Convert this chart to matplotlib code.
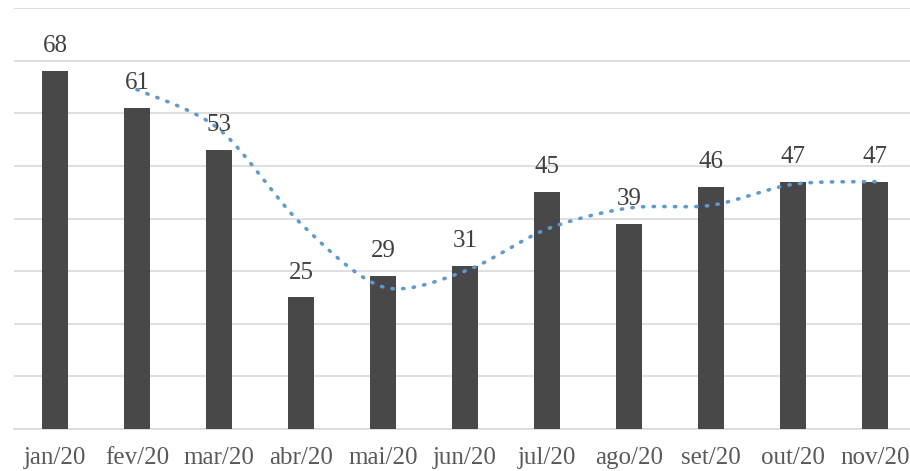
import matplotlib
matplotlib.use("Agg")
import matplotlib.pyplot as plt
import numpy as np

months = ['jan/20', 'fev/20', 'mar/20', 'abr/20', 'mai/20', 'jun/20',
          'jul/20', 'ago/20', 'set/20', 'out/20', 'nov/20']
values = [68, 61, 53, 25, 29, 31, 45, 39, 46, 47, 47]
# trend line (2-period moving average), starts at fev/20
trend = [64.5, 57, 39, 27, 30, 38, 42, 42.5, 46.5, 47]

plt.rcParams['font.family'] = ['Liberation Serif', 'DejaVu Serif']

fig = plt.figure(figsize=(9.10, 4.71), dpi=100)
ax = fig.add_axes([14 / 910, (471 - 429) / 471, 902 / 910, (429 - 8) / 471])

x = np.arange(len(months))
ax.bar(x, values, width=0.317, color='#484848', zorder=3)

for xi, v in zip(x, values):
    ax.annotate(str(v), (xi, v), xytext=(0, 10), textcoords='offset points',
                ha='center', va='bottom', fontsize=18, color='#404040', zorder=5)


# smooth the trend line like the spreadsheet does (Catmull-Rom)
def smooth(xs, ys, n=30):
    px = np.concatenate([[xs[0]], xs, [xs[-1]]])
    py = np.concatenate([[ys[0]], ys, [ys[-1]]])
    outx, outy = [], []
    t = np.linspace(0, 1, n)
    for i in range(1, len(px) - 2):
        p0, p1, p2, p3 = (np.array([px[j], py[j]]) for j in range(i - 1, i + 3))
        m1 = (p2 - p0) / 2 * 0.9
        m2 = (p3 - p1) / 2 * 0.9
        h00 = 2 * t**3 - 3 * t**2 + 1
        h10 = t**3 - 2 * t**2 + t
        h01 = -2 * t**3 + 3 * t**2
        h11 = t**3 - t**2
        pts = (np.outer(h00, p1) + np.outer(h10, m1) + np.outer(h01, p2) + np.outer(h11, m2))
        outx.extend(pts[:, 0])
        outy.extend(pts[:, 1])
    return np.array(outx), np.array(outy)


sx, sy = smooth(x[1:].astype(float), np.array(trend, dtype=float))
ax.plot(sx, sy, color='#5B9BD5', lw=2.6, linestyle=(0, (0.35, 2.6)),
        dash_capstyle='round', zorder=4)

ax.set_xlim(-0.5, 10.5)
ax.set_ylim(0, 80)
ax.set_yticks(np.arange(0, 81, 10))
ax.yaxis.grid(True, color='#D9D9D9', lw=1.2, zorder=0)
ax.set_axisbelow(True)
ax.tick_params(axis='y', left=False, labelleft=False)
ax.set_xticks(x)
ax.set_xticklabels(months, fontsize=18, color='#595959')
ax.tick_params(axis='x', length=0, pad=13)
for s in ['top', 'right', 'left']:
    ax.spines[s].set_visible(False)
ax.spines['bottom'].set_color('#D9D9D9')
ax.spines['bottom'].set_linewidth(1.2)

fig.savefig('out.png', dpi=100)
